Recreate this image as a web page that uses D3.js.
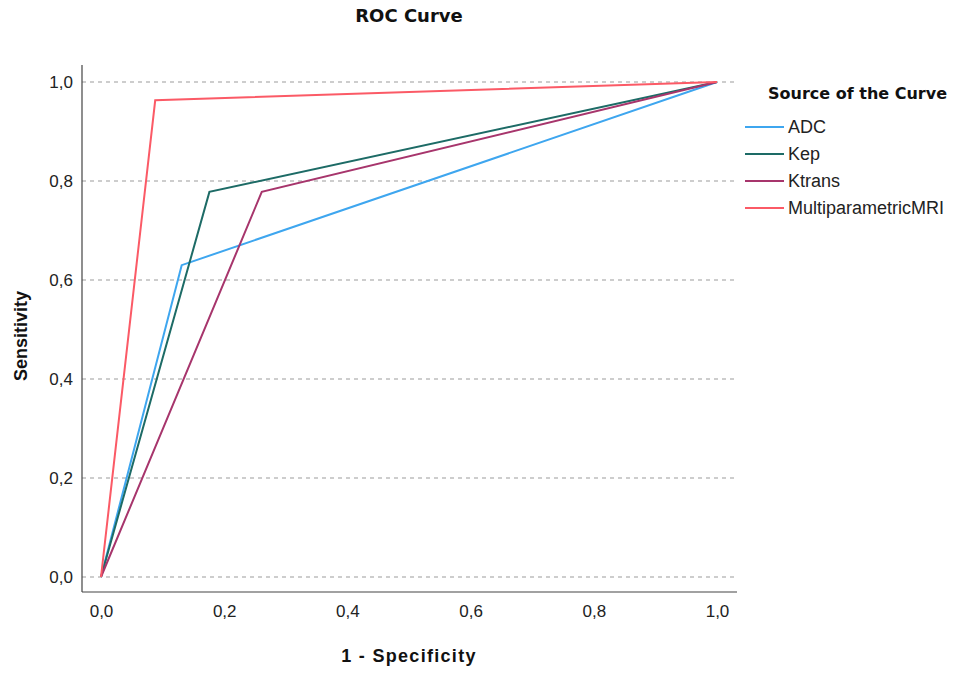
<!DOCTYPE html>
<html>
<head>
<meta charset="utf-8">
<script src="https://cdn.jsdelivr.net/npm/d3@7"></script>
<style>
  body { margin: 0; background: #fff; }
</style>
</head>
<body>
<div class="chart"></div>
<script>
// ROC curves, one array of [1 - specificity, sensitivity] per source
const seriesNames = ["ADC", "Kep", "Ktrans", "MultiparametricMRI"];
const seriesColors = ["#3ea6ef", "#1d6b66", "#a7356c", "#fb5a66"];
const adc = [[0, 0], [0.131, 0.630], [1, 1]];
const kep = [[0, 0], [0.176, 0.778], [1, 1]];
const ktrans = [[0, 0], [0.261, 0.778], [1, 1]];
const mri = [[0, 0], [0.088, 0.963], [1, 1]];
const tickValues = [0, 0.2, 0.4, 0.6, 0.8, 1.0];

const allSeries = [adc, kep, ktrans, mri];

const width = 972, height = 673;
const sans = "'Liberation Sans', Arial, sans-serif";
const bold = "'DejaVu Sans', Verdana, sans-serif";

const svg = d3.select(".chart").append("svg")
  .attr("width", width)
  .attr("height", height);

// plot frame
const frameLeft = 82, frameRight = 737, frameTop = 65, frameBottom = 592;

let x = d3.scaleLinear().domain([0, 1]).range([101, 717]);
let y = d3.scaleLinear().domain([0, 1]).range([577, 82]);
const fmt = d => d3.format(".1f")(d).replace(".", ",");

// grid lines
svg.append("g")
  .selectAll("line")
  .data(tickValues)
  .join("line")
    .attr("x1", frameLeft)
    .attr("x2", frameRight)
    .attr("y1", d => y(d))
    .attr("y2", d => y(d))
    .attr("stroke", "#bdbdbd")
    .attr("stroke-width", 1.5)
    .attr("stroke-dasharray", "4,4");

// axes, no tick marks, just labels
let xAxis = d3.axisBottom(x).tickValues(tickValues).tickFormat(fmt).tickSize(0).tickPadding(13);
let yAxis = d3.axisLeft(y).tickValues(tickValues).tickFormat(fmt).tickSize(0).tickPadding(9);

svg.append("g")
  .attr("transform", `translate(0,${frameBottom})`)
  .call(xAxis)
  .call(g => g.select(".domain").remove())
  .selectAll("text")
    .style("font-size", "17px")
    .style("font-family", sans)
    .attr("fill", "#222");

svg.append("g")
  .attr("transform", `translate(${frameLeft},0)`)
  .call(yAxis)
  .call(g => g.select(".domain").remove())
  .selectAll("text")
    .style("font-size", "17px")
    .style("font-family", sans)
    .attr("fill", "#222");

// axis lines
svg.append("line")
  .attr("x1", frameLeft).attr("x2", frameLeft)
  .attr("y1", frameTop).attr("y2", frameBottom)
  .attr("stroke", "#444").attr("stroke-width", 1.2);
svg.append("line")
  .attr("x1", frameLeft).attr("x2", frameRight)
  .attr("y1", frameBottom).attr("y2", frameBottom)
  .attr("stroke", "#444").attr("stroke-width", 1.2);

// curves
let line = d3.line()
  .x(d => x(d[0]))
  .y(d => y(d[1]));

svg.append("g")
  .selectAll("path")
  .data(allSeries)
  .join("path")
    .attr("fill", "none")
    .attr("stroke", (d, i) => seriesColors[i])
    .attr("stroke-width", 2)
    .attr("stroke-linejoin", "miter")
    .attr("d", line);

// titles
svg.append("text")
  .attr("x", 409).attr("y", 22)
  .attr("text-anchor", "middle")
  .style("font-family", bold)
  .style("font-weight", "bold")
  .style("font-size", "18px")
  .attr("fill", "#111")
  .text("ROC Curve");

svg.append("text")
  .attr("x", 409).attr("y", 662)
  .attr("text-anchor", "middle")
  .style("font-family", sans)
  .style("font-weight", "bold")
  .style("font-size", "18px")
  .style("letter-spacing", "1.3px")
  .attr("fill", "#111")
  .text("1 - Specificity");

svg.append("text")
  .attr("transform", "translate(27,336) rotate(-90)")
  .attr("text-anchor", "middle")
  .style("font-family", sans)
  .style("font-weight", "bold")
  .style("font-size", "18px")
  .attr("fill", "#111")
  .text("Sensitivity");

// legend
let legend = svg.append("g").attr("transform", "translate(745,0)");
legend.append("text")
  .attr("x", 23).attr("y", 99)
  .style("font-family", bold)
  .style("font-weight", "bold")
  .style("font-size", "16px")
  .attr("fill", "#111")
  .text("Source of the Curve");

let items = legend.selectAll(".item")
  .data(seriesNames)
  .join("g")
    .attr("class", "item")
    .attr("transform", (d, i) => `translate(0,${127 + i * 27})`);
items.append("line")
  .attr("x1", 0).attr("x2", 39)
  .attr("stroke", (d, i) => seriesColors[i])
  .attr("stroke-width", 2);
items.append("text")
  .attr("x", 43).attr("y", 6)
  .style("font-size", "18px")
  .style("font-family", sans)
  .attr("fill", "#222")
  .text(d => d);
</script>
</body>
</html>
